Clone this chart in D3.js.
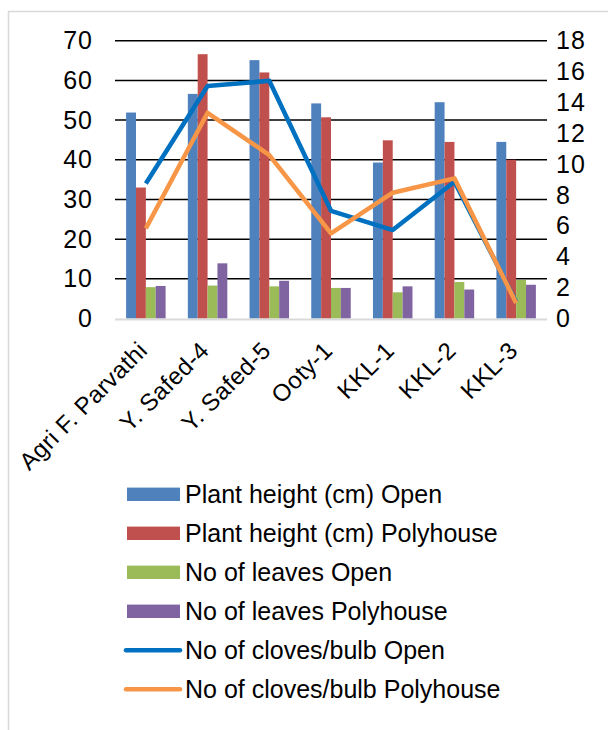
<!DOCTYPE html>
<html>
<head>
<meta charset="utf-8">
<script src="https://cdn.jsdelivr.net/npm/d3@7"></script>
<style>
  body { margin: 0; background: #fff; }
  svg { display: block; font-family: "Liberation Sans", Arial, sans-serif; }
</style>
</head>
<body>
<div class="chart"></div>
<script>
// garlic varieties, open field vs polyhouse
var categories = ['Agri F. Parvathi', 'Y. Safed-4', 'Y. Safed-5', 'Ooty-1', 'KKL-1', 'KKL-2', 'KKL-3'];

var heightOpen = [51.9, 56.6, 65.1, 54.2, 39.3, 54.5, 44.5];
var heightPoly = [33.0, 66.6, 62.0, 50.7, 44.9, 44.5, 40.0];
var leavesOpen = [7.9, 8.3, 8.1, 7.7, 6.6, 9.2, 9.7];
var leavesPoly = [8.2, 13.9, 9.5, 7.7, 8.1, 7.3, 8.5];
var clovesOpen = [8.75, 15.06, 15.4, 6.98, 5.73, 8.86, 1.08];
var clovesPoly = [5.84, 13.33, 10.59, 5.51, 8.15, 9.08, 1.0];

var leftTicks = [0, 10, 20, 30, 40, 50, 60, 70];
var rightTicks = [0, 2, 4, 6, 8, 10, 12, 14, 16, 18];

var barSeries = [
  { name: 'Plant height (cm) Open', values: heightOpen, color: '#4F81BD' },
  { name: 'Plant height (cm) Polyhouse', values: heightPoly, color: '#C0504D' },
  { name: 'No of leaves Open', values: leavesOpen, color: '#9BBB59' },
  { name: 'No of leaves Polyhouse', values: leavesPoly, color: '#8064A2' }
];
var lineSeries = [
  { name: 'No of cloves/bulb Open', values: clovesOpen, color: '#0070C0' },
  { name: 'No of cloves/bulb Polyhouse', values: clovesPoly, color: '#F79646' }
];

var W = 608, H = 730;
var svg = d3.select('.chart').append('svg')
  .attr('width', W)
  .attr('height', H);

// outer frame (only left + top visible in the crop)
svg.append('path')
  .attr('d', 'M8.5,730 V11.5 H608')
  .attr('fill', 'none')
  .attr('stroke', '#d9d9d9')
  .attr('stroke-width', 1.5);

var x0 = 115, x1 = 547;
var yBottom = 318.5, yTop = 40.7;

var x = d3.scaleBand().domain(categories).range([x0, x1]);
var inner = d3.scaleBand()
  .domain(d3.range(barSeries.length))
  .range([x.bandwidth() * 0.18, x.bandwidth() * 0.82]);

var yL = d3.scaleLinear().domain([0, 70]).range([yBottom, yTop]);
var yR = d3.scaleLinear().domain([0, 18]).range([yBottom, yTop]);

// gridlines
svg.append('g')
  .selectAll('line')
  .data(leftTicks.filter(d => d > 0))
  .enter()
    .append('line')
    .attr('x1', x0).attr('x2', x1)
    .attr('y1', d => yL(d)).attr('y2', d => yL(d))
    .attr('stroke', '#000')
    .attr('stroke-width', 1.5);

// left axis
var leftAxis = svg.append('g')
  .attr('transform', 'translate(93,0)')
  .call(d3.axisLeft(yL).tickValues(leftTicks).tickSize(0).tickPadding(0));
leftAxis.select('.domain').remove();
leftAxis.selectAll('text')
  .attr('font-size', 25)
  .attr('letter-spacing', 1)
  .attr('font-family', '"Liberation Sans", Arial, sans-serif')
  .attr('fill', '#000');

// right axis
var rightAxis = svg.append('g')
  .attr('transform', 'translate(556,0)')
  .call(d3.axisRight(yR).tickValues(rightTicks).tickSize(0).tickPadding(0));
rightAxis.select('.domain').remove();
rightAxis.selectAll('text')
  .attr('font-size', 25)
  .attr('letter-spacing', 1)
  .attr('font-family', '"Liberation Sans", Arial, sans-serif')
  .attr('fill', '#000');

// bars
var groups = svg.append('g')
  .selectAll('g')
  .data(barSeries)
  .enter()
    .append('g')
    .attr('fill', d => d.color);

groups.each(function (s, si) {
  d3.select(this).selectAll('rect')
    .data(s.values)
    .enter()
      .append('rect')
      .attr('x', (d, i) => x(categories[i]) + inner(si))
      .attr('width', inner.bandwidth())
      .attr('y', d => yL(d))
      .attr('height', d => yBottom - yL(d));
});

// category axis line
svg.append('line')
  .attr('x1', x0).attr('x2', x1)
  .attr('y1', yBottom + 1).attr('y2', yBottom + 1)
  .attr('stroke', '#d9d9d9')
  .attr('stroke-width', 2);

// lines on the secondary axis
var line = d3.line()
  .x((d, i) => x(categories[i]) + x.bandwidth() / 2)
  .y(d => yR(d));

svg.append('g')
  .selectAll('path')
  .data(lineSeries)
  .enter()
    .append('path')
    .attr('d', d => line(d.values))
    .attr('fill', 'none')
    .attr('stroke', d => d.color)
    .attr('stroke-width', 4.5)
    .attr('stroke-linejoin', 'round');

// rotated category labels
svg.append('g')
  .selectAll('text')
  .data(categories)
  .enter()
    .append('text')
    .attr('transform', d => 'translate(' + (x(d) + x.bandwidth() / 2 + 3) + ',' + 352 + ') rotate(-45)')
    .attr('text-anchor', 'end')
    .attr('font-size', 24)
    .attr('letter-spacing', 0.4)
    .attr('fill', '#000')
    .text(d => d);

// legend
var legendItems = barSeries.map(d => ({ name: d.name, color: d.color, kind: 'bar' }))
  .concat(lineSeries.map(d => ({ name: d.name, color: d.color, kind: 'line' })));

var legend = svg.append('g')
  .selectAll('g')
  .data(legendItems)
  .enter()
    .append('g')
    .attr('transform', (d, i) => 'translate(0,' + (494.3 + i * 39) + ')');

legend.filter(d => d.kind === 'bar')
  .append('rect')
  .attr('x', 127).attr('y', -6.7)
  .attr('width', 53).attr('height', 13.4)
  .attr('fill', d => d.color);

legend.filter(d => d.kind === 'line')
  .append('line')
  .attr('x1', 126).attr('x2', 180)
  .attr('y1', 0).attr('y2', 0)
  .attr('stroke', d => d.color)
  .attr('stroke-width', 4.5)
  .attr('stroke-linecap', 'round');

legend.append('text')
  .attr('x', 185)
  .attr('y', 0)
  .attr('dy', '0.36em')
  .attr('font-size', 25)
  .attr('fill', '#000')
  .text(d => d.name);
</script>
</body>
</html>
